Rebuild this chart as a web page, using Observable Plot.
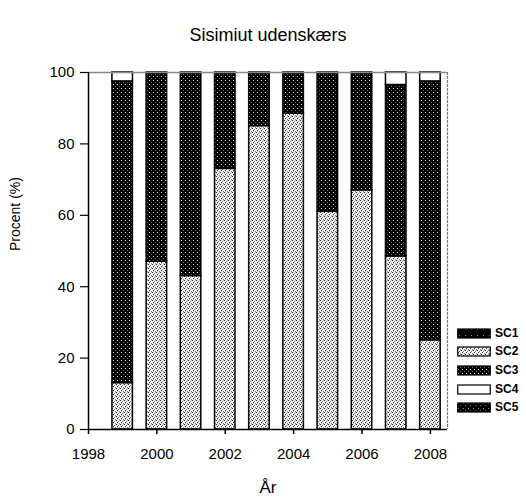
<!DOCTYPE html>
<html>
<head>
<meta charset="utf-8">
<script src="https://cdn.jsdelivr.net/npm/d3@7"></script>
<script src="https://cdn.jsdelivr.net/npm/@observablehq/plot@0.6"></script>
<style>
  html, body { margin: 0; padding: 0; background: #fff; }
  #wrap { position: relative; width: 526px; height: 502px; font-family: "Liberation Sans", Arial, sans-serif; }
  #legend { position: absolute; left: 457px; top: 0; }
  .lg { position: absolute; left: 0; height: 14px; display: flex; align-items: center; white-space: nowrap; }
  .lg span { font-weight: bold; font-size: 12px; margin-left: 4px; color: #000; }
</style>
</head>
<body>
<div id="wrap"></div>
<script>
// ---- data ----
const years = [1999, 2000, 2001, 2002, 2003, 2004, 2005, 2006, 2007, 2008];
const sc1 = [0, 0, 0, 0, 0, 0, 0, 0, 0, 0];
const sc2 = [13, 47, 43, 73, 85, 88.5, 61, 67, 48.5, 25];
const sc3 = [84.5, 53, 57, 27, 15, 11.5, 39, 33, 48, 72.5];
const sc4 = [2.5, 0, 0, 0, 0, 0, 0, 0, 3.5, 2.5];
const sc5 = [0, 0, 0, 0, 0, 0, 0, 0, 0, 0];
const seriesNames = ["SC1", "SC2", "SC3", "SC4", "SC5"];
const stackOrder = ["SC2", "SC3", "SC4", "SC1", "SC5"];
const yTicks = [0, 20, 40, 60, 80, 100];
const xTicks = [1998, 2000, 2002, 2004, 2006, 2008];
const titleText = "Sisimiut udenskærs";
const yLabel = "Procent (%)";
const xLabel = "År";

// ---- build stacked table ----
const values = {SC1: sc1, SC2: sc2, SC3: sc3, SC4: sc4, SC5: sc5};
const rows = [];
years.forEach((yr, i) => {
  let base = 0;
  for (const s of stackOrder) {
    const v = values[s][i];
    if (v > 0) rows.push({year: yr, series: s, y1: base, y2: base + v});
    base += v;
  }
});

const fills = {SC1: "url(#pSC1)", SC2: "url(#pSC2)", SC3: "url(#pSC3)", SC4: "#ffffff", SC5: "url(#pSC5)"};
const halfW = 0.3;
const font = "Liberation Sans, Arial, sans-serif";

const chart = Plot.plot({
  width: 526,
  height: 502,
  marginTop: 72,
  marginBottom: 73,
  marginLeft: 88,
  marginRight: 79,
  style: {fontFamily: font, background: "#fff", color: "#000"},
  x: {domain: [1998, 2008.5]},
  y: {domain: [0, 100]},
  marks: [
    Plot.rectY(rows, {
      x1: d => d.year - halfW, x2: d => d.year + halfW,
      y1: "y1", y2: "y2",
      fill: d => fills[d.series],
      stroke: "#000", strokeWidth: 1.5
    }),
    Plot.ruleY([100], {stroke: "#888", strokeWidth: 1.5, dx: 0}),
    Plot.ruleX([2008.5], {stroke: "#777", strokeWidth: 1.2, strokeDasharray: "3,1"}),
    Plot.ruleX([1998], {stroke: "#000", strokeWidth: 1.5}),
    Plot.ruleY([0], {stroke: "#000", strokeWidth: 1.5}),
    Plot.axisY({ticks: yTicks, tickSize: 8, tickPadding: 6, fontSize: 15, label: null, stroke: "#000", strokeWidth: 1.2}),
    Plot.axisX({ticks: xTicks, tickSize: 5, tickPadding: 14, fontSize: 15, tickFormat: d => String(d), label: null, strokeWidth: 1.5}),
    Plot.text([titleText], {frameAnchor: "top", dy: -44, fontSize: 18, text: d => d}),
    Plot.text([yLabel], {frameAnchor: "left", dx: -73, rotate: -90, fontSize: 14, text: d => d}),
    Plot.text([xLabel], {frameAnchor: "bottom", dy: 63, fontSize: 17, text: d => d})
  ]
});

// ---- stipple patterns ----
const defs = `
<defs>
  <pattern id="pSC2" width="4" height="4" patternUnits="userSpaceOnUse">
    <rect width="4" height="4" fill="#f4f4f4"/>
    <rect x="0" y="0" width="1" height="1" fill="#222"/>
    <rect x="2" y="1" width="1" height="1" fill="#777"/>
    <rect x="1" y="2" width="1" height="1" fill="#333"/>
    <rect x="3" y="3" width="1" height="1" fill="#888"/>
    <rect x="3" y="0" width="1" height="1" fill="#bbb"/>
    <rect x="1" y="3" width="1" height="1" fill="#ccc"/>
  </pattern>
  <pattern id="pSC3" width="4" height="4" patternUnits="userSpaceOnUse">
    <rect width="4" height="4" fill="#000"/>
    <rect x="1" y="0" width="1" height="1" fill="#ddd"/>
    <rect x="3" y="2" width="1" height="1" fill="#666"/>
  </pattern>
  <pattern id="pSC1" width="6" height="6" patternUnits="userSpaceOnUse">
    <rect width="6" height="6" fill="#000"/>
    <rect x="2" y="1" width="1" height="1" fill="#888"/>
  </pattern>
  <pattern id="pSC5" width="5" height="5" patternUnits="userSpaceOnUse">
    <rect width="5" height="5" fill="#000"/>
    <rect x="1" y="1" width="1" height="1" fill="#999"/>
    <rect x="3" y="3" width="1" height="1" fill="#666"/>
  </pattern>
</defs>`;
chart.insertAdjacentHTML("afterbegin", defs);

const wrap = document.getElementById("wrap");
wrap.appendChild(chart);

// ---- legend ----
const legend = document.createElement("div");
legend.id = "legend";
const rowCenters = [333, 351, 370, 389, 407];
seriesNames.forEach((s, i) => {
  const r = document.createElement("div");
  r.className = "lg";
  r.style.top = (rowCenters[i] - 7) + "px";
  r.innerHTML = `<svg width="34" height="11"><rect x="0.75" y="1" width="32.5" height="9" fill="${fills[s]}" stroke="#000" stroke-width="1.2"/></svg><span>${s}</span>`;
  legend.appendChild(r);
});
wrap.appendChild(legend);
</script>
</body>
</html>
